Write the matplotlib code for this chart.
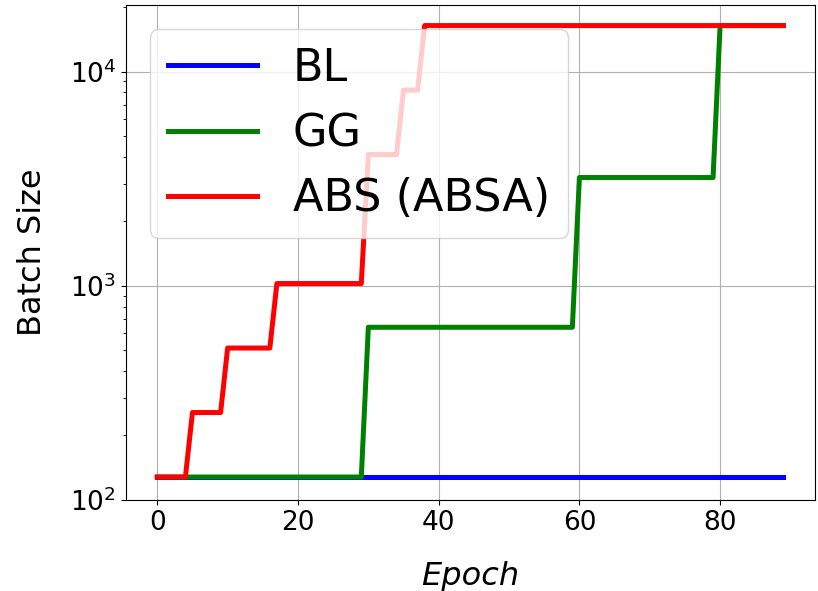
import numpy as np
import matplotlib
matplotlib.use('Agg')
import matplotlib.pyplot as plt

# epochs 0..89
epochs = np.arange(90)

# batch size per epoch
bl = [128] * 90
gg = [128] * 30 + [640] * 30 + [3200] * 20 + [16384] * 10
abs_absa = [128] * 5 + [256] * 5 + [512] * 7 + [1024] * 13 + [4096] * 5 + [8192] * 3 + [16384] * 52

fig, ax = plt.subplots(figsize=(8.18, 5.91), dpi=100)
ax.plot(epochs, bl, color='blue', lw=3.6, label='BL')
ax.plot(epochs, gg, color='green', lw=3.6, label='GG')
ax.plot(epochs, abs_absa, color='red', lw=3.6, label='ABS (ABSA)')

ax.set_yscale('log')
ax.set_ylim(100, 20500)
ax.grid(True)
ax.set_xlabel('Epoch', fontsize=23, style='italic', labelpad=18)
ax.set_ylabel('Batch Size', fontsize=23, labelpad=16)
ax.tick_params(labelsize=19)
ax.legend(loc='upper left', fontsize=32, borderaxespad=0.55)

fig.subplots_adjust(left=0.154, right=0.996, top=0.992, bottom=0.154)
fig.savefig('out.png')
